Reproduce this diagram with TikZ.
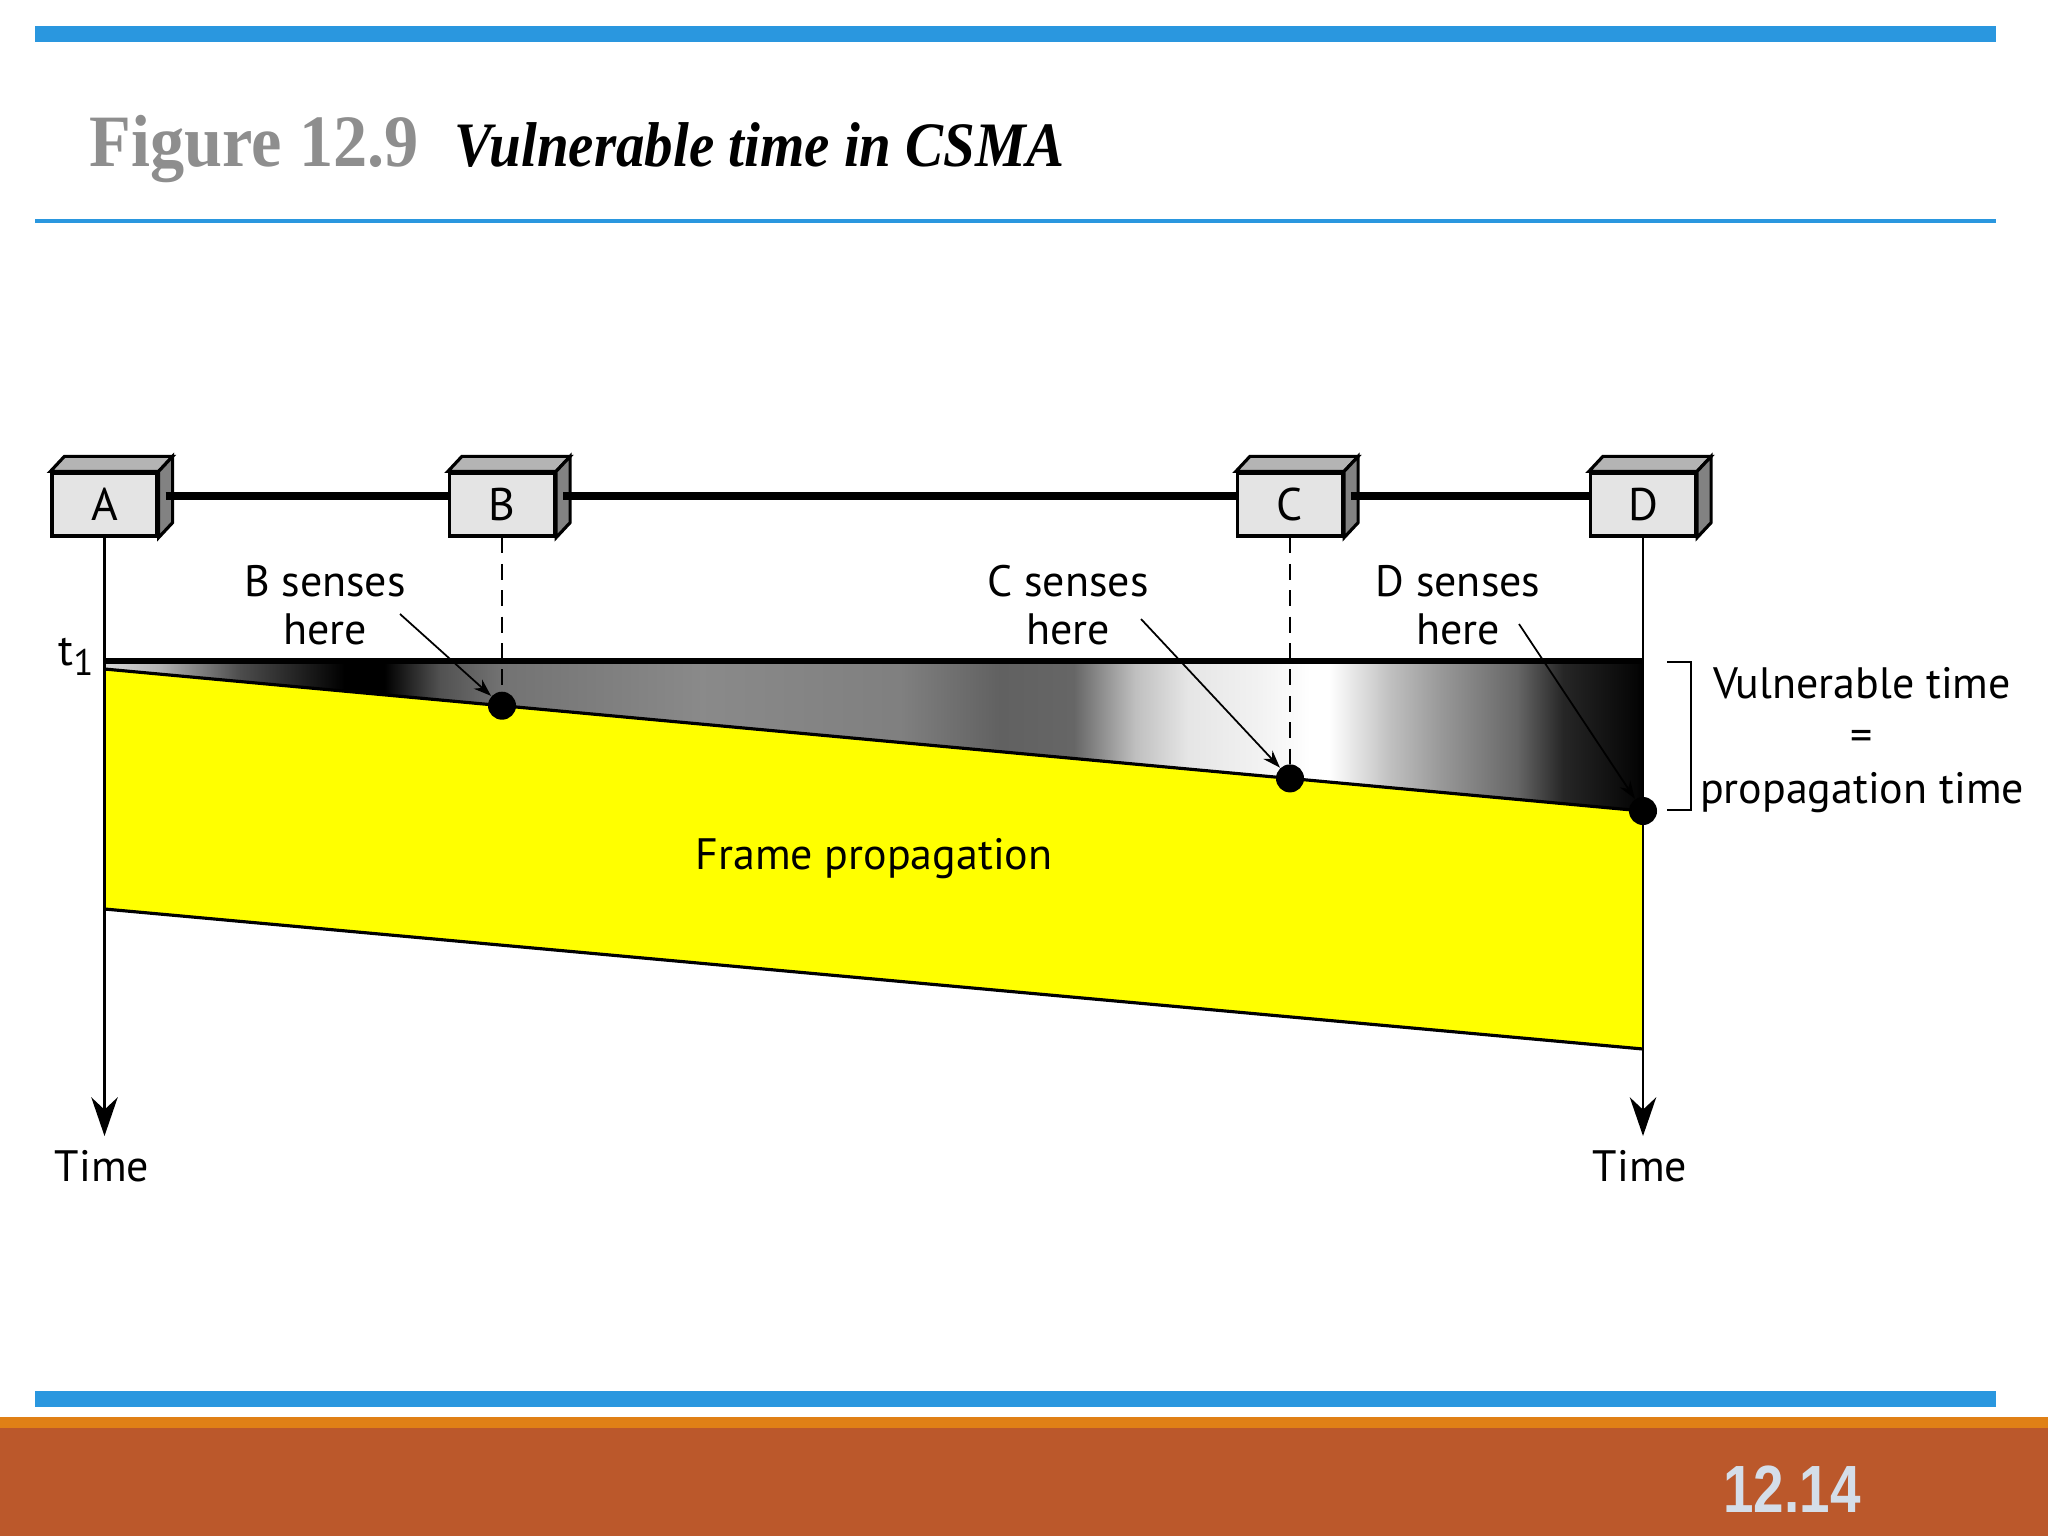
\documentclass[tikz,border=0pt]{standalone}
\usepackage{fontspec}
\setmainfont{PT Sans}
\newfontfamily\figfont[FakeStretch=0.925]{Liberation Serif}
\newfontfamily\capfont[FakeStretch=0.9]{Liberation Serif}
\newfontfamily\pagefont[FakeStretch=0.82]{Liberation Sans}
\usetikzlibrary{arrows.meta, calc}
\definecolor{slideblue}{HTML}{2A97DF}
\definecolor{slideorange}{HTML}{E08016}
\definecolor{slidebrown}{HTML}{BB582B}
\definecolor{figgray}{HTML}{8E8E8E}
\definecolor{pagegray}{HTML}{D4DEE9}
\definecolor{frontgray}{HTML}{E4E4E4}
\definecolor{topgray}{HTML}{B4B4B4}
\definecolor{sidegray}{HTML}{828282}
\definecolor{framey}{HTML}{FFFF00}
\pgfdeclarehorizontalshading{vulnshade}{100bp}{color(0bp)=(black!15); color(25bp)=(black!15);
  color(26.8bp)=(black!30); color(29.4bp)=(black!70); color(32.8bp)=(black); color(34.1bp)=(black);
  color(35.9bp)=(black!68); color(37.9bp)=(black!55); color(44.4bp)=(black!46); color(50.9bp)=(black!50);
  color(54.1bp)=(black!62); color(56.5bp)=(black!60); color(58.5bp)=(black!25); color(60.2bp)=(black!10);
  color(62.6bp)=(black!5); color(64.2bp)=(white); color(64.8bp)=(white); color(66.8bp)=(black!25);
  color(68.4bp)=(black!40); color(70.9bp)=(black!60); color(72.4bp)=(black!85); color(74.8bp)=(black!98);
  color(75bp)=(black); color(100bp)=(black)}

\begin{document}
\begin{tikzpicture}[x=0.01cm, y=-0.01cm,
  station/.style={draw, line width=0.9pt, fill=frontgray, minimum width=1.05cm, minimum height=0.63cm, inner sep=0pt, font=\fontsize{13}{15}\selectfont},
  bus/.style={line width=2.3pt},
  timeline/.style={line width=0.75pt, -{Stealth[length=11pt, width=7.5pt, inset=3.5pt]}},
  senseline/.style={line width=0.5pt, -{Stealth[length=5pt, width=3.5pt]}},
  dot/.style={circle, fill=black, inner sep=0pt, minimum size=0.28cm},
  lbl/.style={align=center, font=\fontsize{12.5}{13.6}\selectfont}]
  \useasboundingbox (0,0) rectangle (2048,1536);

  % slide frame
  \fill[slideblue] (35,26) rectangle (1996,42);
  \fill[slideblue] (35,219) rectangle (1996,223);
  \fill[slideblue] (35,1391) rectangle (1996,1407);
  \fill[slideorange] (0,1417) rectangle (2048,1428);
  \fill[slidebrown] (0,1428) rectangle (2048,1536);
  \node[anchor=base west, inner sep=0pt, text=figgray] (fig) at (89,166) {\figfont\bfseries\fontsize{21}{24}\selectfont Figure 12.9};
  \node[anchor=base west, inner sep=0pt] (caption) at (454,166) {\capfont\bfseries\itshape\fontsize{18}{22}\selectfont Vulnerable time in CSMA};
  \node[text=pagegray] (page) at (1792,1489) {\pagefont\bfseries\fontsize{19}{22}\selectfont 12.14};

  % stations on the bus
  \foreach \n/\x in {A/104.5, B/502, C/1290, D/1643} {
    \node[station] (\n) at (\x,504.5) {\n};
    \filldraw[fill=topgray, line width=0.9pt] (\n.north west) -- ++(14,-15) -- ($(\n.north east)+(14,-15)$) -- (\n.north east) -- cycle;
    \filldraw[fill=sidegray, line width=0.9pt] (\n.north east) -- ++(14,-15) -- ($(\n.south east)+(14,-15)$) -- (\n.south east) -- cycle;
  }
  \foreach \p/\q in {A/B, B/C, C/D}
    \draw[bus] ([shift={(7,-8.5)}]\p.east) -- ([shift={(0,-8.5)}]\q.west);

  % vulnerable band and frame
  \coordinate (tA) at (104.5,661);
  \coordinate (tD) at (1643,661);
  \coordinate (sA) at (104.5,669);
  \coordinate (sD) at (1643,811);
  \coordinate (eA) at (104.5,909);
  \coordinate (eD) at (1643,1049);
  \shade[shading=vulnshade] (tA) -- (tD) -- (sD) -- (sA) -- cycle;
  \fill[framey] (sA) -- (sD) -- (eD) -- (eA) -- cycle;
  \draw[line width=0.9pt] (sA) -- (sD);
  \draw[line width=0.9pt] (eA) -- (eD);
  \draw[line width=1.6pt] (tA) -- (tD);
  \node[lbl] (frame) at (874,859) {Frame propagation};

  % time axes
  \coordinate (endA) at (104.5,1136);
  \coordinate (endD) at (1643,1136);
  \draw[timeline] (A.south) -- (endA);
  \draw[timeline] (D.south) -- (endD);
  \node[lbl] (timeA) at (102,1166) {Time};
  \node[lbl] (timeD) at (1640,1166) {Time};
  \node[lbl] (t1) at (76,657) {t\raisebox{-0.45ex}{\fontsize{10.5}{12}\selectfont 1}};

  % sensing points
  \node[dot] (dB) at (502,705.7) {};
  \node[dot] (dC) at (1290,778.4) {};
  \node[dot] (dD) at (sD) {};
  \draw[line width=0.8pt, dash pattern=on 4.5pt off 3pt] (B.south) -- (dB);
  \draw[line width=0.8pt, dash pattern=on 4.5pt off 3pt] (C.south) -- (dC);

  \node[lbl] (senseB) at (325,605) {B senses\\here};
  \node[lbl] (senseC) at (1068,605) {C senses\\here};
  \node[lbl] (senseD) at (1458,605) {D senses\\here};
  \coordinate (fromB) at (400,614);
  \coordinate (fromC) at (1141,619);
  \coordinate (fromD) at (1519,624);
  \draw[senseline] (fromB) -- (dB);
  \draw[senseline] (fromC) -- (dC);
  \draw[senseline] (fromD) -- (dD);

  % vulnerable time bracket
  \draw[line width=0.6pt] (1667,662) -- (1691,662) -- (1691,810) -- (1667,810);
  \node[lbl, font=\fontsize{12.5}{15}\selectfont] (vuln) at (1862,740) {Vulnerable time\\=\\propagation time};
\end{tikzpicture}
\end{document}
